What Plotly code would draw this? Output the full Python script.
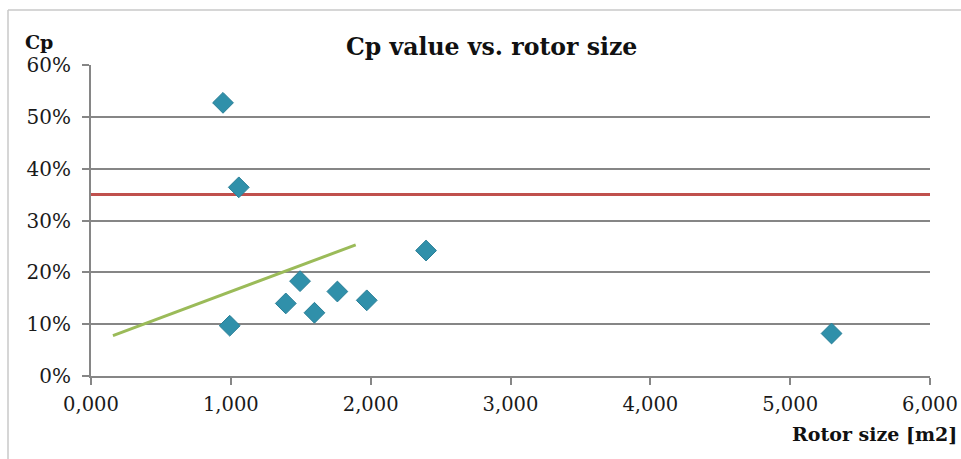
import plotly.graph_objects as go

# Data
rotor_size = [944, 1057, 992, 1393, 1495, 1598, 1762, 1972, 2396, 5296]
cp_value = [0.527, 0.364, 0.097, 0.140, 0.183, 0.122, 0.163, 0.146, 0.242, 0.082]

ref_x = [0, 6000]
ref_cp = [0.35, 0.35]

trend_x = [157, 1893]
trend_cp = [0.078, 0.253]

x_tick_vals = [0, 1000, 2000, 3000, 4000, 5000, 6000]
x_tick_labels = ["0,000", "1,000", "2,000", "3,000", "4,000", "5,000", "6,000"]
y_tick_vals = [0, 0.1, 0.2, 0.3, 0.4, 0.5, 0.6]
y_tick_labels = ["0%", "10%", "20%", "30%", "40%", "50%", "60%"]

FONT = "DejaVu Serif"
GRID = "#868686"
TXT = "#1a1a1a"

fig = go.Figure()
fig.add_trace(go.Scatter(x=ref_x, y=ref_cp, mode="lines", name="Reference",
                         line=dict(color="#C0504D", width=3), hoverinfo="skip"))
fig.add_trace(go.Scatter(x=trend_x, y=trend_cp, mode="lines", name="Trend",
                         line=dict(color="#9BBB59", width=3), hoverinfo="skip"))
fig.add_trace(go.Scatter(x=rotor_size, y=cp_value, mode="markers", name="Cp",
                         marker=dict(symbol="diamond", size=16, color="#3090AA",
                                     line=dict(color="#2A7F97", width=1))))

PW = 839
PH = 311

fig.update_layout(
    width=961, height=459,
    margin=dict(l=91, r=31, t=65, b=83, autoexpand=False),
    paper_bgcolor="white", plot_bgcolor="white",
    showlegend=False,
    font=dict(family=FONT, size=20, color=TXT),
    xaxis=dict(range=[0, 6000], tickvals=x_tick_vals, ticktext=x_tick_labels,
               showgrid=False, zeroline=False, showline=True, linecolor=GRID, linewidth=2,
               ticks="outside", ticklen=7, tickwidth=2, tickcolor=GRID, automargin=False,
               ticklabelstandoff=3,
               tickfont=dict(family=FONT, size=19.5, color=TXT)),
    yaxis=dict(range=[0, 0.6], tickvals=y_tick_vals, ticktext=y_tick_labels,
               showgrid=True, gridcolor=GRID, gridwidth=2, zeroline=False,
               showline=True, linecolor=GRID, linewidth=2, automargin=False,
               ticks="outside", ticklen=7, tickwidth=2, tickcolor=GRID,
               ticklabelstandoff=7,
               tickfont=dict(family=FONT, size=20, color=TXT)),
    annotations=[
        dict(text="<b>Cp value vs. rotor size</b>", xref="paper", yref="paper",
             x=(491 - 91) / PW, y=1, yshift=18, xanchor="center", yanchor="middle",
             showarrow=False, font=dict(family=FONT, size=23.6, color="#111111")),
        dict(text="<b>Cp</b>", xref="paper", yref="paper", x=(23 - 91) / PW, y=1,
             yshift=23, xanchor="left", yanchor="middle", showarrow=False,
             font=dict(family=FONT, size=19, color="#111111")),
        dict(text="<b>Rotor size [m2]</b>", xref="paper", yref="paper",
             x=(959 - 91) / PW, y=0, yshift=-58, xanchor="right", yanchor="middle",
             showarrow=False, font=dict(family=FONT, size=19, color="#111111")),
    ],
    shapes=[
        dict(type="line", xref="paper", yref="paper", x0=(8 - 91) / PW, x1=(961 - 91) / PW,
             y0=1 + 55 / PH, y1=1 + 55 / PH, line=dict(color="#C8C8C8", width=1.5)),
        dict(type="line", xref="paper", yref="paper", x0=(8 - 91) / PW, x1=(8 - 91) / PW,
             y0=1 + 55 / PH, y1=-83 / PH, line=dict(color="#C8C8C8", width=1.5)),
    ],
)

fig.write_html(
    "out.html",
    config={"displayModeBar": False},
    post_script="document.body.style.margin='0';document.body.style.padding='0';"
                "document.body.style.overflow='hidden';",
)
